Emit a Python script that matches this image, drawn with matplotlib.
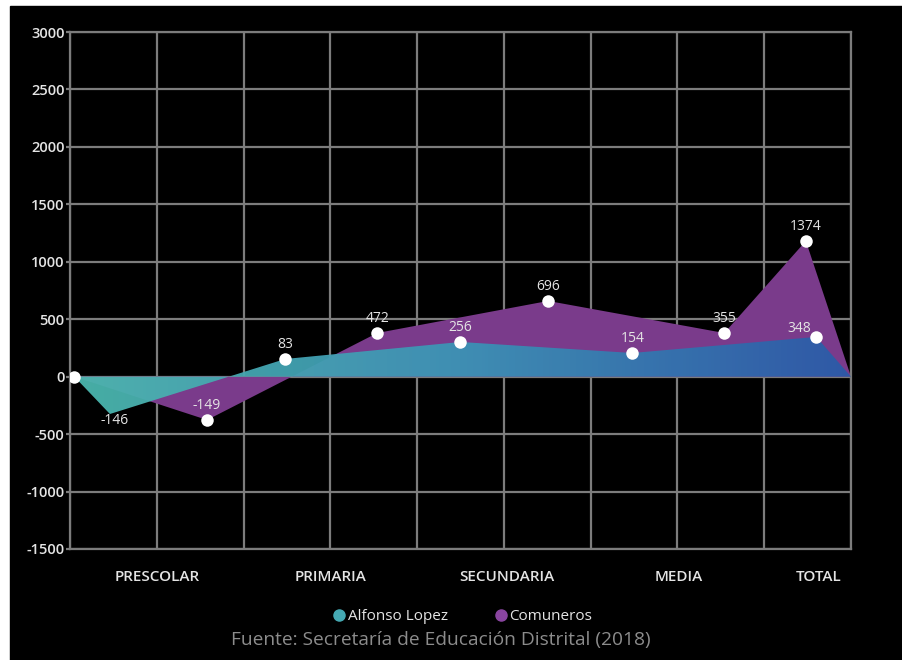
import numpy as np
import matplotlib
matplotlib.use("Agg")
import matplotlib.pyplot as plt
from matplotlib.patches import Polygon, Rectangle
from matplotlib.lines import Line2D
from matplotlib.colors import LinearSegmentedColormap

plt.rcParams['font.family'] = ['Open Sans', 'DejaVu Sans']
plt.rcParams['axes.unicode_minus'] = False

categories = ["PRESCOLAR", "PRIMARIA", "SECUNDARIA", "MEDIA", "TOTAL"]
cat_pos = [1.0, 3.0, 5.04, 7.02, 8.63]

al_x = [0.05, 0.46, 2.48, 4.50, 6.48, 8.60, 9.0]
al_y = [0, -325, 154, 302, 206, 346, 0]
al_lab = [None, "-146", "83", "256", "154", "348", None]

# Comuneros
co_x = [0.05, 1.58, 3.54, 5.51, 7.54, 8.48, 9.0]
co_y = [0, -377, 380, 659, 380, 1181, 0]
co_lab = [None, "-149", "472", "696", "355", "1374", None]

yticks = [-1500, -1000, -500, 0, 500, 1000, 1500, 2000, 2500, 3000]

grid_c = "#7c7c7c"
txt_c = "#e4e4e4"
purple = "#7a3b8b"

fig = plt.figure(figsize=(9.03, 6.6), dpi=100, facecolor="white")
fig.add_artist(Rectangle((10 / 903, 0), 1, 1 - 6 / 660, transform=fig.transFigure,
                         color="black", zorder=-10))

ax = fig.add_axes([70 / 903, 1 - 549 / 660, 781 / 903, 517 / 660])
ax.set_facecolor("black")

# vertical grid
for gx in range(10):
    ax.axvline(gx, color=grid_c, lw=1.6, zorder=1)

# purple area
ax.fill(co_x, co_y, color=purple, lw=0, zorder=2)

# teal->blue gradient area
poly = Polygon(np.column_stack([al_x, al_y]), closed=True, fc="none", ec="none")
ax.add_patch(poly)
cmap = LinearSegmentedColormap.from_list("tb", ["#4cb8ae", "#3c93b6", "#2b5aa8"])
grad = np.linspace(0, 1, 256).reshape(1, -1)
im = ax.imshow(grad, extent=[0, 9, -1500, 3000], aspect="auto", cmap=cmap,
               alpha=0.95, zorder=3)
im.set_clip_path(poly)

# dots
dots_x = [al_x[0]] + [x for x, l in zip(al_x, al_lab) if l and l != "-146"] + \
         [x for x, l in zip(co_x, co_lab) if l]
dots_y = [al_y[0]] + [y for y, l in zip(al_y, al_lab) if l and l != "-146"] + \
         [y for y, l in zip(co_y, co_lab) if l]
ax.plot(dots_x, dots_y, "o", color="white", ms=9, mec="none", zorder=5)

special = {"-146": (3, -5), "348": (-12, 1)}
for xs, ys, labs in [(al_x, al_y, al_lab), (co_x, co_y, co_lab)]:
    for x, y, l in zip(xs, ys, labs):
        if l is None:
            continue
        off = special.get(l, (0, 5))
        ax.annotate(l, (x, y), xytext=off, textcoords="offset points",
                    ha="center", va="center" if l == "-146" else "bottom",
                    color=txt_c, fontsize=10, zorder=6)

ax.set_xlim(0, 9)
ax.set_ylim(-1500, 3000)
ax.set_xticks(cat_pos)
ax.set_xticklabels(categories)
ax.set_yticks(yticks)
ax.grid(axis="y", color=grid_c, lw=1.6)
ax.set_axisbelow(True)
ax.tick_params(axis="x", length=0, pad=15, colors=txt_c, labelsize=11)
ax.tick_params(axis="y", length=3, width=1.6, color=grid_c, pad=1, labelcolor=txt_c,
               labelsize=10.5)
for lab in ax.get_xticklabels() + ax.get_yticklabels():
    lab.set_fontweight("semibold")
for s in ax.spines.values():
    s.set_color(grid_c)
    s.set_linewidth(1.6)

handles = [Line2D([], [], marker="o", ls="none", color="#45a9b3", ms=8),
           Line2D([], [], marker="o", ls="none", color="#8a45a0", ms=8)]
fig.legend(handles, ["Alfonso Lopez", "Comuneros"], loc="center",
           bbox_to_anchor=(462 / 903, 1 - 617 / 660), ncol=2, frameon=False,
           handlelength=1.0, handletextpad=0.05, columnspacing=3.0,
           labelcolor=txt_c, fontsize=11)

fig.text(441 / 903, 1 - 640 / 660, "Fuente: Secretaría de Educación Distrital (2018)",
         ha="center", va="center", color="#8c8c8c", fontsize=13.8)

fig.savefig("out.png", dpi=100, facecolor=fig.get_facecolor())
